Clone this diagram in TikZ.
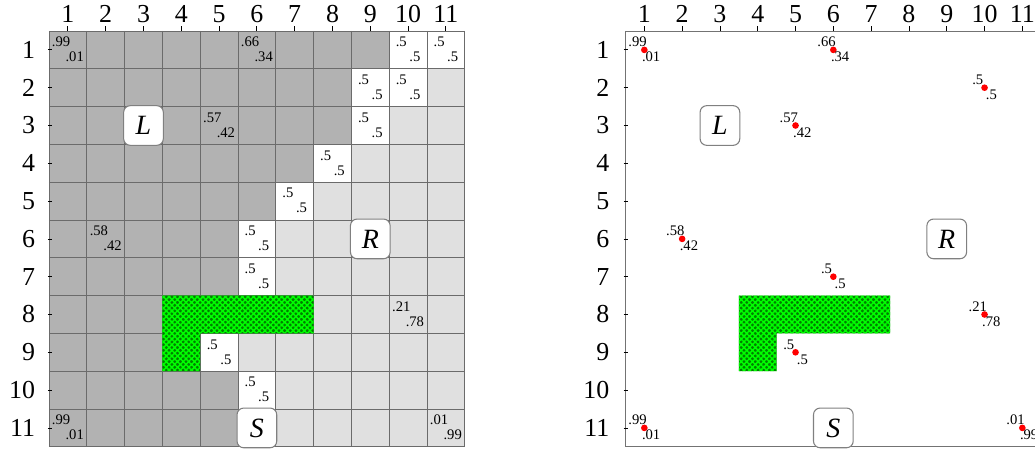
\documentclass[tikz,border=0pt]{standalone}
\usepackage{fontspec}
\setmainfont{Liberation Serif}
\usetikzlibrary{patterns.meta}

\definecolor{darkcell}{gray}{0.70}
\definecolor{lightcell}{gray}{0.88}
\definecolor{gridline}{gray}{0.42}
\definecolor{axisline}{gray}{0.45}
\definecolor{hatchdark}{RGB}{0,128,0}
\definecolor{hatchlight}{RGB}{0,255,0}

\tikzset{
  big/.style={font=\fontsize{19.5}{19.5}\selectfont, inner sep=0pt},
  rowlab/.style={big, anchor=east},
  prob/.style={font=\fontsize{11}{11}\selectfont, inner sep=0pt},
  state/.style={draw=black!50, fill=white, rounded corners=5pt, minimum size=1.05cm,
                inner sep=0pt, font=\fontsize{21}{21}\selectfont\itshape, line width=0.8pt},
  gridl/.style={draw=gridline, line width=0.6pt},
  tick/.style={draw=black, line width=0.6pt},
  obstacle/.style={fill=hatchdark, postaction={pattern={Hatch[angle=45,distance=3pt,line width=1.1pt]}, pattern color=hatchlight}},
  reddot/.style={circle, fill=red, inner sep=0pt, minimum size=5pt},
  axisl/.style={draw=axisline, line width=0.7pt},
}

\begin{document}
\begin{tikzpicture}
\useasboundingbox (-0.796,0.320) rectangle (26.585,-11.558);

% ---------------- left panel ----------------
\fill[lightcell] (0.5,-0.5) rectangle (11.5,-11.5);
\foreach \r/\d in {1/9,2/8,3/8,4/7,5/6,6/5,7/5,8/3,9/3,10/5,11/5}
  \fill[darkcell] (0.5,-\r+0.5) rectangle (\d+0.5,-\r-0.5);
\foreach \r/\c in {1/10,1/11,2/9,2/10,3/9,4/8,5/7,6/6,7/6,9/5,10/6,11/6}
  \fill[white] (\c-0.5,-\r+0.5) rectangle (\c+0.5,-\r-0.5);
\foreach \i in {0,...,11} {
  \draw[gridl] (0.5+\i,-0.5) -- (0.5+\i,-11.5);
  \draw[gridl] (0.5,-0.5-\i) -- (11.5,-0.5-\i);
}
\path[obstacle] (3.5,-7.5) -- (7.5,-7.5) -- (7.5,-8.5) -- (4.5,-8.5) -- (4.5,-9.5) -- (3.5,-9.5) -- cycle;

\foreach \k in {1,...,11} {
  \node[big] (lc\k) at (\k,-0.06) {\k};
  \node[rowlab] (lr\k) at (0.14,-\k) {\k};
  \draw[tick] (\k,-0.5) -- (\k,-0.37);
  \draw[tick] (0.47,-\k) -- (0.58,-\k);
}

\foreach \r/\c/\a/\b [count=\i] in {1/1/.99/.01, 1/6/.66/.34, 1/10/.5/.5, 1/11/.5/.5,
    2/9/.5/.5, 2/10/.5/.5, 3/5/.57/.42, 3/9/.5/.5, 4/8/.5/.5, 5/7/.5/.5, 6/2/.58/.42,
    6/6/.5/.5, 7/6/.5/.5, 8/10/.21/.78, 9/5/.5/.5, 10/6/.5/.5, 11/1/.99/.01, 11/11/.01/.99} {
  \coordinate (lp\i) at (\c,-\r);
  \node[prob] (lpa\i) at ([shift={(-0.18,0.21)}]lp\i) {\a};
  \node[prob] (lpb\i) at ([shift={(0.18,-0.19)}]lp\i) {\b};
}

\node[state] (L1) at (3,-3) {L};
\node[state] (R1) at (9,-6) {R};
\node[state] (S1) at (6,-11) {S};

% ---------------- right panel ----------------
\begin{scope}[xshift=15.25cm]
\draw[axisl] (0.5,-0.5) rectangle (11.5,-11.5);
\path[obstacle] (3.5,-7.5) -- (7.5,-7.5) -- (7.5,-8.5) -- (4.5,-8.5) -- (4.5,-9.5) -- (3.5,-9.5) -- cycle;

\foreach \k in {1,...,11} {
  \node[big] (rc\k) at (\k,-0.06) {\k};
  \node[rowlab] (rr\k) at (0.08,-\k) {\k};
  \draw[tick] (\k,-0.5) -- (\k,-0.38);
  \draw[tick] (0.45,-\k) -- (0.56,-\k);
}

\foreach \r/\c/\a/\b [count=\i] in {1/1/.99/.01, 1/6/.66/.34, 2/10/.5/.5, 3/5/.57/.42,
    6/2/.58/.42, 7/6/.5/.5, 8/10/.21/.78, 9/5/.5/.5, 11/1/.99/.01, 11/11/.01/.99} {
  \node[reddot] (rp\i) at (\c,-\r) {};
  \node[prob] (rpa\i) at ([shift={(-0.18,0.21)}]rp\i.center) {\a};
  \node[prob] (rpb\i) at ([shift={(0.18,-0.19)}]rp\i.center) {\b};
}

\node[state] (L2) at (3,-3) {L};
\node[state] (R2) at (9,-6) {R};
\node[state] (S2) at (6,-11) {S};
\end{scope}
\end{tikzpicture}
\end{document}
